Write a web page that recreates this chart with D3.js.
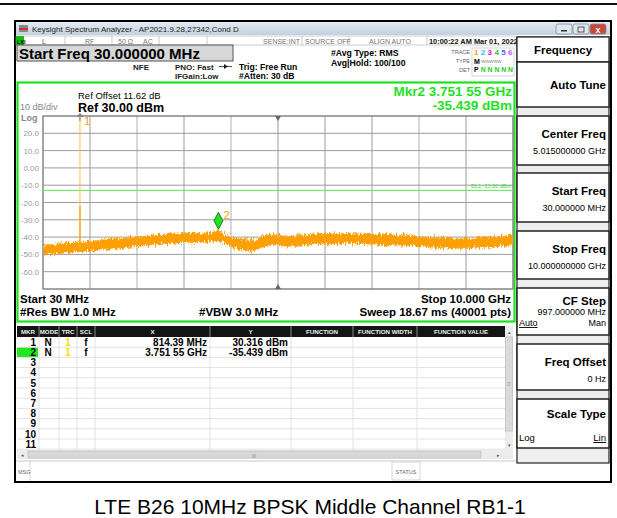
<!DOCTYPE html>
<html>
<head>
<meta charset="utf-8">
<script src="https://cdn.jsdelivr.net/npm/d3@7"></script>
<style>
body { margin: 0; background: #fff; }
svg text { font-family: "Liberation Sans", Arial, sans-serif; }
</style>
</head>
<body>
<div id="chart"></div>
<script>
// Trace envelope: frequency (GHz), upper / lower edge (dBm)
const traceFreqGHz = [0.03, 0.25, 0.5, 0.75, 1.0, 1.25, 1.5, 1.75, 2.0, 2.25, 2.5, 2.75, 3.0, 3.2, 3.4,
    3.6, 3.75, 3.9, 4.05, 4.2, 4.35, 4.5, 4.65, 4.8, 4.95, 5.2, 5.5, 5.75, 6.0, 6.25, 6.5, 6.75, 7.0,
    7.25, 7.5, 7.75, 8.0, 8.25, 8.5, 8.75, 9.0, 9.25, 9.5, 9.75, 10.0];
const traceTop = [-44.4, -44.0, -43.4, -42.8, -42.4, -41.6, -41.0, -40.4, -39.6, -39.2, -38.6, -38.0, -37.2, -37.6, -37.4,
    -37.0, -35.8, -39.0, -39.8, -40.6, -41.4, -41.6, -39.8, -38.6, -38.4, -39.6, -38.8, -38.0, -37.6, -37.8, -37.7, -38.1, -38.2,
    -38.4, -38.6, -39.0, -39.4, -39.8, -40.4, -40.6, -40.6, -40.2, -39.6, -39.2, -38.6];
const traceBottom = [-50.0, -49.8, -49.2, -48.6, -48.6, -47.6, -47.0, -46.4, -45.7, -45.2, -44.5, -44.0, -43.3, -43.5, -43.2,
    -42.4, -42.2, -44.0, -45.8, -47.2, -47.8, -48.0, -46.4, -45.2, -44.6, -45.4, -44.8, -44.2, -43.8, -44.0, -43.9, -44.2, -44.3,
    -44.5, -44.8, -45.0, -45.2, -45.8, -46.4, -46.6, -46.7, -46.2, -45.7, -45.2, -44.8];

const yTicks = [20, 10, 0, -10, -20, -30, -40, -50, -60];
const yTickLabels = ["20.0", "10.0", "0.00", "-10.0", "-20.0", "-30.0", "-40.0", "-50.0", "-60.0"];

const startMHz = 30, stopMHz = 10000, centerMHz = 5015;
const refLevel = 30, dbPerDiv = 10, numDivs = 10;
const displayLineDbm = -13;

const markerIds = [1, 2];
const markerFreqMHz = [814.39, 3751.55];
const markerDbm = [30.316, -35.439];
const markerXText = ["814.39 MHz", "3.751 55 GHz"];
const markerYText = ["30.316 dBm", "-35.439 dBm"];

const tableColumns = ["MKR", "MODE", "TRC", "SCL", "X", "Y", "FUNCTION", "FUNCTION WIDTH", "FUNCTION VALUE"];
const tableRows = d3.range(1, 12);

const softkeyLabels = ["Auto Tune", "Center Freq", "Start Freq", "Stop Freq", "CF Step", "Freq Offset", "Scale Type"];
const softkeyValues = ["", "5.015000000 GHz", "30.000000 MHz", "10.000000000 GHz", "997.000000 MHz", "0 Hz", ""];

const caption = "LTE B26 10MHz BPSK Middle Channel RB1-1";

const width = 617, height = 518;
const green = "#1fe21f";
const orange = "#ffa000";

const svg = d3.select("#chart").append("svg")
    .attr("width", width)
    .attr("height", height);

const defs = svg.append("defs");

// rough edges for the noise band
const noise = defs.append("filter").attr("id", "noise")
    .attr("x", "-2%").attr("y", "-80%").attr("width", "104%").attr("height", "260%");
noise.append("feTurbulence")
    .attr("type", "fractalNoise").attr("baseFrequency", "1.3 0.25")
    .attr("numOctaves", 2).attr("seed", 4).attr("result", "t");
noise.append("feDisplacementMap")
    .attr("in", "SourceGraphic").attr("in2", "t").attr("scale", 9)
    .attr("xChannelSelector", "R").attr("yChannelSelector", "G");

const titleGrad = defs.append("linearGradient").attr("id", "titlebar")
    .attr("x1", 0).attr("y1", 0).attr("x2", 0).attr("y2", 1);
titleGrad.append("stop").attr("offset", "0%").attr("stop-color", "#e4ebf3");
titleGrad.append("stop").attr("offset", "100%").attr("stop-color", "#c3d0df");

function txt(g, x, y, s, size, opts) {
    opts = opts || {};
    return g.append("text")
        .attr("x", x).attr("y", y)
        .attr("font-size", size)
        .attr("font-weight", opts.bold ? "bold" : "normal")
        .attr("text-anchor", opts.anchor || "start")
        .attr("fill", opts.fill || "#000")
        .text(s);
}

// top cut-off line of the page
svg.append("rect").attr("x", 0).attr("y", 3).attr("width", width).attr("height", 2).attr("fill", "#111");

// window frame
svg.append("rect").attr("x", 15).attr("y", 21).attr("width", 596).attr("height", 461)
    .attr("fill", "#fff").attr("stroke", "#000").attr("stroke-width", 2);

// title bar
svg.append("rect").attr("x", 16).attr("y", 22).attr("width", 594).attr("height", 13).attr("fill", "url(#titlebar)");
svg.append("rect").attr("x", 19).attr("y", 25).attr("width", 9).attr("height", 7).attr("fill", "#8a8a8a");
svg.append("rect").attr("x", 19).attr("y", 28).attr("width", 9).attr("height", 2).attr("fill", "#d03030");
txt(svg, 32, 32, "Keysight Spectrum Analyzer - AP2021.9.28,27342,Cond D", 8, { fill: "#222" });

const winBtns = [[556, "#dfe6ee"], [573, "#dfe6ee"], [590, "#c9483b"]];
winBtns.forEach(function(b) {
    svg.append("rect").attr("x", b[0]).attr("y", 24).attr("width", 16).attr("height", 10).attr("rx", 2)
        .attr("fill", b[1]).attr("stroke", "#7d8da3").attr("stroke-width", 0.8);
});
svg.append("rect").attr("x", 561).attr("y", 30).attr("width", 6).attr("height", 1.5).attr("fill", "#333");
svg.append("rect").attr("x", 578).attr("y", 27).attr("width", 6).attr("height", 5).attr("fill", "none").attr("stroke", "#333").attr("stroke-width", 0.8);
txt(svg, 598, 32.5, "x", 9, { bold: true, anchor: "middle", fill: "#fff" });

// status row
const status = svg.append("g");
status.append("rect").attr("x", 16).attr("y", 36).attr("width", 499).attr("height", 9)
    .attr("fill", "#fff").attr("stroke", "#aaa").attr("stroke-width", 0.6);
status.append("rect").attr("x", 16).attr("y", 36).attr("width", 8).attr("height", 9).attr("fill", "#10c010");
txt(status, 17, 43.5, "LXI", 5.5, { bold: true });
[65, 112, 159, 207, 302, 349, 427].forEach(function(x) {
    status.append("line").attr("x1", x).attr("x2", x).attr("y1", 36).attr("y2", 45).attr("stroke", "#aaa").attr("stroke-width", 0.6);
});
txt(status, 42, 43.5, "L", 7, { fill: "#555" });
txt(status, 85, 43.5, "RF", 7, { fill: "#777" });
txt(status, 118, 43.5, "50 Ω", 7, { fill: "#777" });
txt(status, 143, 43.5, "AC", 7, { fill: "#777" });
txt(status, 300, 43.5, "SENSE:INT", 7, { fill: "#777", anchor: "end" });
txt(status, 305, 43.5, "SOURCE OFF", 7, { fill: "#777" });
txt(status, 390, 43.5, "ALIGN AUTO", 7, { fill: "#777", anchor: "middle" });
txt(status, 429, 43.5, "10:00:22 AM Mar 01, 2022", 7.4, { bold: true, fill: "#111" });

// active function box
svg.append("rect").attr("x", 17).attr("y", 45).attr("width", 216).attr("height", 16)
    .attr("fill", "#d7d7d7").attr("stroke", "#555").attr("stroke-width", 1);
txt(svg, 19, 58.5, "Start Freq 30.000000 MHz", 15, { bold: true });

// settings text
txt(svg, 133, 70, "NFE", 8, { bold: true, fill: "#222" });
txt(svg, 175, 70, "PNO: Fast", 8, { bold: true, fill: "#222" });
svg.append("line").attr("x1", 219).attr("x2", 232).attr("y1", 66.5).attr("y2", 66.5).attr("stroke", "#222").attr("stroke-width", 0.8);
svg.append("path").attr("d", "M224,64 L228,66.5 L224,69 Z").attr("fill", "#222");
txt(svg, 175, 79, "IFGain:Low", 8, { bold: true, fill: "#222" });
txt(svg, 239, 70, "Trig: Free Run", 8.6, { bold: true });
txt(svg, 239, 79, "#Atten: 30 dB", 8.6, { bold: true });
txt(svg, 331, 56, "#Avg Type: RMS", 8.7, { bold: true });
txt(svg, 331, 65.5, "Avg|Hold: 100/100", 8.7, { bold: true });

// trace legend box
const trBox = svg.append("g");
trBox.append("rect").attr("x", 472).attr("y", 48).attr("width", 42).attr("height", 28)
    .attr("fill", "#fff").attr("stroke", "#bbb").attr("stroke-width", 0.6);
txt(trBox, 470, 54, "TRACE", 5.5, { anchor: "end", fill: "#666" });
txt(trBox, 470, 63, "TYPE", 5.5, { anchor: "end", fill: "#666" });
txt(trBox, 470, 72, "DET", 5.5, { anchor: "end", fill: "#666" });
const traceColors = ["#f0a000", "#10c8e8", "#e010e0", "#30c030", "#5a5aff", "#b060ff"];
traceColors.forEach(function(c, i) {
    txt(trBox, 474 + i * 6.8, 55, String(i + 1), 8, { bold: true, fill: c });
    txt(trBox, 474 + i * 6.8, 72, i === 0 ? "P" : "N", 6.8, { bold: true, fill: i === 0 ? "#000" : "#22cc22" });
});
txt(trBox, 474, 63.5, "M", 7, { bold: true });
txt(trBox, 481, 63, "WWWWW", 4.4, { fill: "#777" });

// graph frame
svg.append("rect").attr("x", 17.5).attr("y", 82.5).attr("width", 497).attr("height", 239)
    .attr("fill", "#fff").attr("stroke", green).attr("stroke-width", 2.2);

// annotations above the plot
txt(svg, 78, 99, "Ref Offset 11.62 dB", 9.5);
txt(svg, 78, 112, "Ref 30.00 dBm", 12.5, { bold: true });
txt(svg, 20, 110, "10 dB/div", 9, { fill: "#888" });
txt(svg, 21, 120.5, "Log", 9, { bold: true, fill: "#888" });
txt(svg, 512, 96, "Mkr2 3.751 55 GHz", 13.5, { bold: true, anchor: "end", fill: green });
txt(svg, 512, 110, "-35.439 dBm", 13.5, { bold: true, anchor: "end", fill: green });

// plot scales
const x = d3.scaleLinear().domain([startMHz, stopMHz]).range([43, 513]);
const y = d3.scaleLinear().domain([refLevel - dbPerDiv * numDivs, refLevel]).range([289, 116]);

defs.append("clipPath").attr("id", "plotclip").append("rect")
    .attr("x", 43).attr("y", 116).attr("width", 470).attr("height", 173);

const grid = svg.append("g");
d3.range(0, numDivs + 1).forEach(function(i) {
    const f = startMHz + i * (stopMHz - startMHz) / numDivs;
    const light = (i === 2 || i === 4 || i === 8);
    grid.append("line")
        .attr("x1", x(f)).attr("x2", x(f)).attr("y1", y(refLevel - dbPerDiv * numDivs)).attr("y2", y(refLevel))
        .attr("stroke", light ? "#cfcfcf" : "#9c9c9c").attr("stroke-width", light ? 1.6 : 1);
});
d3.range(0, numDivs + 1).forEach(function(i) {
    const v = refLevel - i * dbPerDiv;
    grid.append("line")
        .attr("x1", x(startMHz)).attr("x2", x(stopMHz)).attr("y1", y(v)).attr("y2", y(v))
        .attr("stroke", "#9c9c9c").attr("stroke-width", 1);
});
grid.append("rect").attr("x", x(startMHz)).attr("y", y(refLevel))
    .attr("width", x(stopMHz) - x(startMHz)).attr("height", y(refLevel - dbPerDiv * numDivs) - y(refLevel))
    .attr("fill", "none").attr("stroke", "#888").attr("stroke-width", 1.2);

// y axis labels
const yAxis = svg.append("g")
    .attr("transform", "translate(" + x(startMHz) + ",0)")
    .call(d3.axisLeft(y).tickValues(yTicks).tickFormat(function(d, i) { return yTickLabels[i]; })
        .tickSize(0).tickPadding(4));
yAxis.select(".domain").remove();
yAxis.selectAll("text").attr("fill", "#9a9a9a").attr("font-size", 8)
    .attr("font-family", "Liberation Sans, Arial, sans-serif");

// display line
svg.append("line").attr("x1", x(startMHz)).attr("x2", x(stopMHz))
    .attr("y1", y(displayLineDbm)).attr("y2", y(displayLineDbm))
    .attr("stroke", "#55ec55").attr("stroke-width", 1);
txt(svg, 511, y(displayLineDbm) - 2, "DL1 -13.00 dBm", 5.5, { anchor: "end", fill: "#33d833" });

// center frequency indicators
svg.append("path")
    .attr("d", "M" + (x(centerMHz) - 3) + "," + y(refLevel) + " l6,0 l-3,5 Z").attr("fill", "#666");
svg.append("path")
    .attr("d", "M" + (x(centerMHz) - 3) + "," + y(refLevel - dbPerDiv * numDivs) + " l6,0 l-3,-5 Z").attr("fill", "#666");

// trace
const traceData = traceFreqGHz.map(function(f, i) {
    return { f: f * 1000, hi: traceTop[i], lo: traceBottom[i] };
});
const plot = svg.append("g").attr("clip-path", "url(#plotclip)");
plot.append("path")
    .datum(traceData)
    .attr("d", d3.area()
        .x(function(d) { return x(d.f); })
        .y0(function(d) { return y(d.lo); })
        .y1(function(d) { return y(d.hi); }))
    .attr("fill", orange)
    .attr("filter", "url(#noise)");

// marker 1 spike (single bin at the carrier)
const m1x = x(markerFreqMHz[0]);
const spikeBase = d3.scaleLinear().domain(traceFreqGHz.map(function(f) { return f * 1000; })).range(traceBottom);
plot.append("line")
    .attr("x1", m1x).attr("x2", m1x)
    .attr("y1", y(spikeBase(markerFreqMHz[0]))).attr("y2", y(markerDbm[0]))
    .attr("stroke", "#ffbf50").attr("stroke-width", 1);
plot.append("line")
    .attr("x1", m1x).attr("x2", m1x)
    .attr("y1", y(spikeBase(markerFreqMHz[0]))).attr("y2", y(-22))
    .attr("stroke", orange).attr("stroke-width", 1.2);

// marker 1 is above the screen: arrow at top
svg.append("line").attr("x1", m1x).attr("x2", m1x).attr("y1", 121).attr("y2", 114)
    .attr("stroke", "#555").attr("stroke-width", 0.8);
svg.append("path").attr("d", "M" + (m1x - 2.5) + ",117 L" + m1x + ",113.5 L" + (m1x + 2.5) + ",117")
    .attr("fill", "none").attr("stroke", "#555").attr("stroke-width", 0.8);
txt(svg, m1x + 4, 125, String(markerIds[0]), 11.5, { fill: orange });

// marker 2 diamond
const m2x = x(markerFreqMHz[1]);
const m2y = y(markerDbm[1]);
svg.append("path")
    .attr("d", "M" + m2x + "," + m2y + " L" + (m2x + 4.5) + "," + (m2y - 8.5) + " L" + m2x + "," + (m2y - 17) +
        " L" + (m2x - 4.5) + "," + (m2y - 8.5) + " Z")
    .attr("fill", "#22e022").attr("stroke", "#106010").attr("stroke-width", 0.8);
txt(svg, m2x + 5, m2y - 10, String(markerIds[1]), 11.5, { fill: orange });

// bottom annotations
txt(svg, 20, 303, "Start 30 MHz", 11.5, { bold: true });
txt(svg, 20, 316, "#Res BW 1.0 MHz", 11.5, { bold: true });
txt(svg, 199, 316, "#VBW 3.0 MHz", 11.5, { bold: true });
txt(svg, 511, 303, "Stop 10.000 GHz", 11.5, { bold: true, anchor: "end" });
txt(svg, 511, 316, "Sweep  18.67 ms (40001 pts)", 11.5, { bold: true, anchor: "end" });

// marker table
const colEdges = [17, 39, 59, 77, 95, 210, 291, 353, 417, 505];
const table = svg.append("g");
const rowTop = 337, rowH = 10.2;
table.append("rect").attr("x", 17).attr("y", 326).attr("width", 488).attr("height", 11).attr("fill", "#141414");
tableColumns.forEach(function(c, i) {
    const cx = (colEdges[i] + colEdges[i + 1]) / 2;
    txt(table, cx, 334, c, 6.2, { bold: true, anchor: "middle", fill: "#eee" });
    if (i > 0) {
        table.append("line").attr("x1", colEdges[i]).attr("x2", colEdges[i]).attr("y1", 326).attr("y2", 337)
            .attr("stroke", "#888").attr("stroke-width", 1);
        table.append("line").attr("x1", colEdges[i]).attr("x2", colEdges[i]).attr("y1", 337).attr("y2", rowTop + rowH * 11)
            .attr("stroke", "#e2e2e2").attr("stroke-width", 1);
    }
});
table.append("rect").attr("x", 17).attr("y", rowTop + rowH).attr("width", 21).attr("height", rowH).attr("fill", "#1fe81f");
tableRows.forEach(function(r, i) {
    const ty = rowTop + i * rowH;
    table.append("line").attr("x1", 17).attr("x2", 505).attr("y1", ty + rowH).attr("y2", ty + rowH)
        .attr("stroke", "#e2e2e2").attr("stroke-width", 1);
    txt(table, 36, ty + 8.8, String(r), 10, { bold: true, anchor: "end" });
});
markerIds.forEach(function(m, i) {
    const ty = rowTop + i * rowH + 8.8;
    txt(table, 48, ty, "N", 10, { bold: true, anchor: "middle" });
    txt(table, 68, ty, "1", 10, { bold: true, anchor: "middle", fill: "#f2e000" });
    txt(table, 86, ty, "f", 10, { bold: true, anchor: "middle" });
    txt(table, 207, ty, markerXText[i], 10, { bold: true, anchor: "end" });
    txt(table, 288, ty, markerYText[i], 10, { bold: true, anchor: "end" });
});

// vertical scrollbar
table.append("rect").attr("x", 505).attr("y", 326).attr("width", 8).attr("height", 124).attr("fill", "#ececec");
table.append("rect").attr("x", 505.5).attr("y", 337).attr("width", 7).attr("height", 94)
    .attr("fill", "#dadada").attr("stroke", "#b5b5b5").attr("stroke-width", 0.6);
txt(table, 509, 334, "▴", 5, { anchor: "middle", fill: "#555" });
txt(table, 509, 447, "▾", 5, { anchor: "middle", fill: "#555" });
txt(table, 509, 386, "≡", 6, { anchor: "middle", fill: "#999" });

// horizontal scrollbar
table.append("rect").attr("x", 17).attr("y", 450).attr("width", 496).attr("height", 9).attr("fill", "#ececec");
table.append("rect").attr("x", 28).attr("y", 451).attr("width", 453).attr("height", 7)
    .attr("fill", "#d8d8d8").attr("stroke", "#b5b5b5").attr("stroke-width", 0.6);
txt(table, 22, 457, "◂", 5, { anchor: "middle", fill: "#555" });
txt(table, 498, 457, "▸", 5, { anchor: "middle", fill: "#555" });
txt(table, 254, 457.5, "III", 5, { anchor: "middle", fill: "#888" });

// message bar
svg.append("line").attr("x1", 16).attr("x2", 610).attr("y1", 461).attr("y2", 461).attr("stroke", "#bbb").attr("stroke-width", 0.8);
svg.append("line").attr("x1", 30).attr("x2", 30).attr("y1", 461).attr("y2", 481).attr("stroke", "#ccc").attr("stroke-width", 0.8);
txt(svg, 18, 474, "MSG", 5.5, { fill: "#666" });
svg.append("rect").attr("x", 392).attr("y", 462).attr("width", 28).attr("height", 18)
    .attr("fill", "none").attr("stroke", "#ccc").attr("stroke-width", 0.8);
txt(svg, 406, 474, "STATUS", 5.5, { anchor: "middle", fill: "#666" });

// softkey panel
const keys = svg.append("g");
const keyBoxes = [[62, 107], [116, 165], [173, 222], [231, 279], [288, 335], [344, 390], [399, 448]];
keys.append("rect").attr("x", 517).attr("y", 37).attr("width", 92).attr("height", 426)
    .attr("fill", "#eeeeee").attr("stroke", "#222").attr("stroke-width", 1.2);
keys.append("rect").attr("x", 517).attr("y", 37).attr("width", 92).attr("height", 25)
    .attr("fill", "#fff").attr("stroke", "#222").attr("stroke-width", 1.2);
txt(keys, 563, 53.5, "Frequency", 11.5, { bold: true, anchor: "middle" });
keyBoxes.forEach(function(b, i) {
    keys.append("rect").attr("x", 517).attr("y", b[0]).attr("width", 92).attr("height", b[1] - b[0])
        .attr("fill", "#fff").attr("stroke", "#222").attr("stroke-width", 1.5);
    const lbl = softkeyLabels[i];
    if (lbl === "Auto Tune") {
        txt(keys, 606, b[0] + 27, lbl, 11.5, { bold: true, anchor: "end" });
    } else if (lbl === "CF Step") {
        txt(keys, 606, b[0] + 17, lbl, 11.5, { bold: true, anchor: "end" });
        txt(keys, 606, b[0] + 27, softkeyValues[i], 9, { anchor: "end" });
        txt(keys, 519, b[0] + 38, "Auto", 9).attr("text-decoration", "underline");
        txt(keys, 606, b[0] + 38, "Man", 9, { anchor: "end" });
    } else if (lbl === "Scale Type") {
        txt(keys, 606, b[0] + 19, lbl, 11.5, { bold: true, anchor: "end" });
        txt(keys, 519, b[0] + 42, "Log", 9.5);
        txt(keys, 606, b[0] + 42, "Lin", 9.5, { anchor: "end" }).attr("text-decoration", "underline");
    } else {
        txt(keys, 606, b[0] + 22, lbl, 11.5, { bold: true, anchor: "end" });
        txt(keys, 606, b[0] + 38, softkeyValues[i], 9, { anchor: "end" });
    }
});

// caption
txt(svg, 310, 514, caption, 21, { anchor: "middle" });
</script>
</body>
</html>
